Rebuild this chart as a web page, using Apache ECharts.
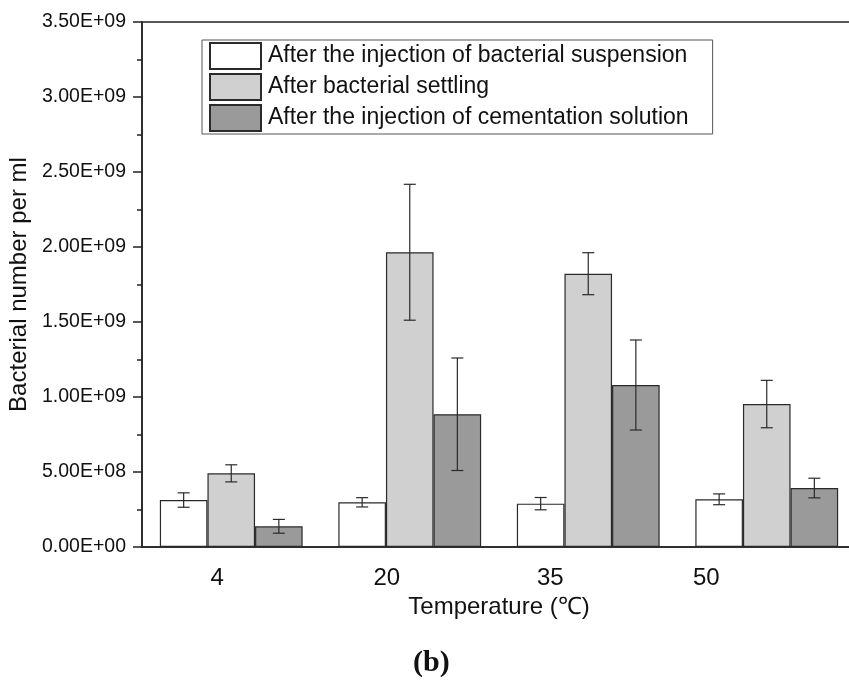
<!DOCTYPE html>
<html>
<head>
<meta charset="utf-8">
<script src="https://cdn.jsdelivr.net/npm/echarts@6/dist/echarts.min.js"></script>
<style>
  html, body { margin: 0; padding: 0; background: #fff; }
  #main { width: 849px; height: 685px; }
</style>
</head>
<body>
<div id="main"></div>
<script>
// temperature groups
var categories = ['4', '20', '35', '50'];

// bacterial number per ml
var suspension = [3.13e8, 2.98e8, 2.89e8, 3.18e8];
var suspensionErr = [0.48e8, 0.31e8, 0.41e8, 0.36e8];
var settling = [4.91e8, 1.965e9, 1.822e9, 0.953e9];
var settlingErr = [0.57e8, 0.453e9, 0.14e9, 0.158e9];
var cementation = [1.38e8, 0.885e9, 1.08e9, 3.93e8];
var cementationErr = [0.46e8, 0.375e9, 0.30e9, 0.655e8];

var names = [
    'After the injection of bacterial suspension',
    'After bacterial settling',
    'After the injection of cementation solution'
];
var colors = ['#ffffff', '#d0d0d0', '#9a9a9a'];

var FONT = 'Liberation Sans, Arial, sans-serif';

// x labels in the original sit left of their ticks
var labelShift = { l0: 28, l1: 46, l2: 76, l3: 121 };

function sci(v) {
    if (v === 0) return '0.00E+00';
    var e = Math.floor(Math.log10(v));
    var m = v / Math.pow(10, e);
    return m.toFixed(2) + 'E+' + (e < 10 ? '0' + e : e);
}

function errSeries(k, vals, errs) {
    var data = [];
    for (var i = 0; i < vals.length; i++) {
        data.push([i, vals[i], errs[i]]);
    }
    return {
        type: 'custom',
        name: 'err' + k,
        z: 5,
        data: data,
        renderItem: function (params, api) {
            var idx = api.value(0), v = api.value(1), e = api.value(2);
            var band = api.size([1, 0])[0];
            var c = api.coord([idx, v]);
            var x = c[0] + (k - 1) * band * 0.8 / 3;
            var top = api.coord([idx, v + e])[1];
            var bot = api.coord([idx, v - e])[1];
            var st = { stroke: '#2a2a2a', lineWidth: 1.2 };
            return {
                type: 'group',
                children: [
                    { type: 'line', shape: { x1: x, y1: top, x2: x, y2: bot }, style: st },
                    { type: 'line', shape: { x1: x - 6, y1: top, x2: x + 6, y2: top }, style: st },
                    { type: 'line', shape: { x1: x - 6, y1: bot, x2: x + 6, y2: bot }, style: st }
                ]
            };
        }
    };
}

function barSeries(k, vals) {
    return {
        type: 'bar',
        name: names[k],
        data: vals,
        barGap: '0%',
        barCategoryGap: '20%',
        itemStyle: { color: colors[k], borderColor: '#2a2a2a', borderWidth: 1.2 }
    };
}

var rich = {};
Object.keys(labelShift).forEach(function (key) {
    rich[key] = { padding: [0, labelShift[key], 0, 0], fontSize: 24, fontFamily: FONT, color: '#111' };
});

var chart = echarts.init(document.getElementById('main'));
chart.setOption({
    animation: false,
    backgroundColor: '#fff',
    title: {
        text: '(b)',
        left: 408,
        top: 643,
        textStyle: { fontFamily: 'Liberation Serif, Times New Roman, serif', fontWeight: 'bold', fontSize: 30, color: '#111' }
    },
    grid: {
        left: 142, top: 22, width: 714, height: 525,
        outerBoundsMode: 'none',
        containLabel: false,
        show: true, borderColor: '#222', borderWidth: 1.5, backgroundColor: 'transparent'
    },
    legend: {
        data: names,
        orient: 'vertical',
        left: 202,
        top: 40,
        icon: 'rect',
        itemWidth: 51,
        itemHeight: 26,
        itemGap: 3,
        padding: [2, 24, 2, 7],
        borderColor: '#555',
        borderWidth: 1,
        textStyle: { fontFamily: FONT, fontSize: 23, color: '#111', padding: [0, 0, 0, 2] }
    },
    xAxis: {
        type: 'category',
        data: categories,
        name: 'Temperature (℃)',
        nameLocation: 'middle',
        nameGap: 48,
        nameTextStyle: { fontFamily: FONT, fontSize: 24, color: '#111' },
        axisLine: { lineStyle: { color: '#222', width: 1.5 } },
        axisTick: { alignWithLabel: true, length: 9, lineStyle: { color: '#222', width: 1.5 } },
        axisLabel: {
            margin: 19,
            formatter: function (v, i) { return '{l' + i + '|' + v + '}'; },
            rich: rich
        }
    },
    yAxis: {
        type: 'value',
        min: 0,
        max: 3.5e9,
        interval: 5e8,
        name: 'Bacterial number per ml',
        nameLocation: 'middle',
        nameGap: 106,
        nameTextStyle: { fontFamily: FONT, fontSize: 24, color: '#111' },
        axisLine: { show: true, lineStyle: { color: '#222', width: 1.5 } },
        axisTick: { show: true, length: 9, lineStyle: { color: '#222', width: 1.5 } },
        minorTick: { show: true, splitNumber: 2, length: 5, lineStyle: { color: '#222', width: 1.5 } },
        splitLine: { show: false },
        axisLabel: {
            margin: 16,
            fontFamily: FONT,
            fontSize: 19.5,
            color: '#111',
            formatter: sci
        }
    },
    series: [
        barSeries(0, suspension),
        barSeries(1, settling),
        barSeries(2, cementation),
        errSeries(0, suspension, suspensionErr),
        errSeries(1, settling, settlingErr),
        errSeries(2, cementation, cementationErr)
    ]
});
</script>
</body>
</html>
